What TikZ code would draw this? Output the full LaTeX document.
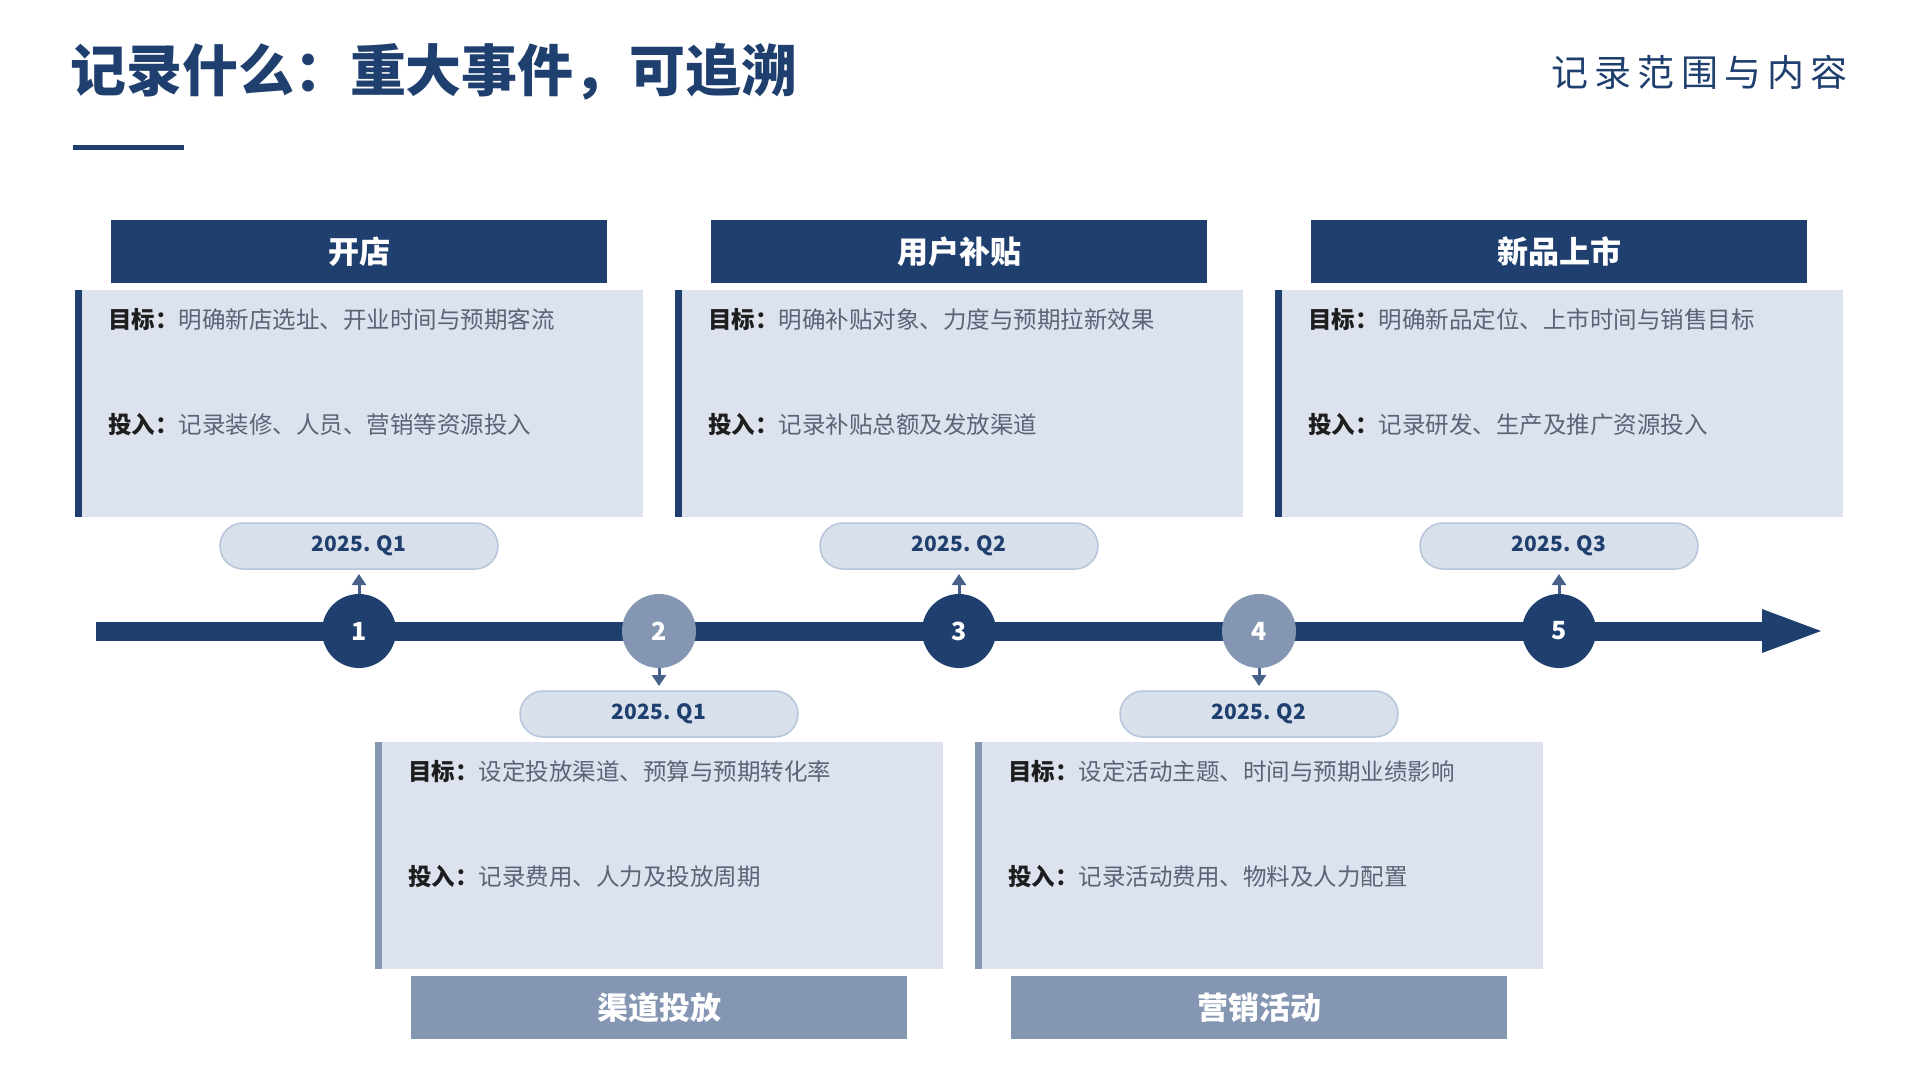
\documentclass[tikz,border=0pt]{standalone}
\usepackage{fontspec}
\setmainfont{Noto Sans CJK SC}
\newfontfamily\subtitlefont{Noto Sans CJK SC}[LetterSpace=17]
\usepackage{tikz}
\usetikzlibrary{positioning,arrows.meta}
\definecolor{navycolor}{RGB}{31,63,110}
\definecolor{slatecolor}{RGB}{132,150,178}
\definecolor{cardcolor}{RGB}{221,227,238}
\definecolor{pillcolor}{RGB}{216,224,235}
\definecolor{pillborder}{RGB}{182,197,219}
\definecolor{labelcolor}{RGB}{30,30,30}
\definecolor{bodycolor}{RGB}{90,100,118}
\definecolor{tickcolor}{RGB}{70,96,138}
\newcommand\cardtext[2]{{\bfseries\color{labelcolor}#1：}#2}

\begin{document}
\begin{tikzpicture}[x=1pt,y=-1pt,outer sep=0pt,inner sep=0pt,
stepnum/.style={
  circle,
  minimum size=74pt,
  text=white,
  font={\fontsize{25}{25}\selectfont\bfseries}},
datepill/.style={
  draw=pillborder,
  line width=1.5pt,
  fill=pillcolor,
  rounded corners=23pt,
  minimum width=278pt,
  minimum height=46pt,
  text=navycolor,
  font={\fontsize{21}{21}\selectfont\bfseries}},
infocard/.style={
  fill=cardcolor,
  minimum width=568pt,
  minimum height=227pt},
headbox/.style={
  minimum width=496pt,
  minimum height=63pt,
  text=white,
  font={\fontsize{31}{31}\selectfont\bfseries}},
cardline/.style={
  anchor=west,
  text=bodycolor,
  font={\fontsize{23.5}{23.5}\selectfont}},
tick/.style={
  draw=tickcolor,
  line width=3pt,
  -{Triangle[length=11pt,width=14pt]},
  shorten >=5pt},
]
\useasboundingbox (0,0) rectangle (1920,1080);

% heading
\node[anchor=west,text=navycolor,font={\fontsize{56}{56}\selectfont\bfseries}] (title) at (70,72) {记录什么：重大事件，可追溯};
\fill[navycolor] (73,145) rectangle (184,150);
\node[anchor=east,text=navycolor,font={\subtitlefont\fontsize{37}{37}\selectfont}] (subtitle) at (1848,72) {记录范围与内容};

% timeline
\coordinate (axstart) at (96,631);
\coordinate (axend) at (1762,631);
\draw[navycolor,line width=19pt] (axstart) -- (axend);
\fill[navycolor] ([yshift=22pt]axend) -- ([xshift=59pt]axend) -- ([yshift=-22pt]axend) -- cycle;

\node[stepnum,fill=navycolor] (s1) at (359,631) {1};
\node[stepnum,fill=slatecolor] (s2) at (659,631) {2};
\node[stepnum,fill=navycolor] (s3) at (959,631) {3};
\node[stepnum,fill=slatecolor] (s4) at (1259,631) {4};
\node[stepnum,fill=navycolor] (s5) at (1559,631) {5};

\node[datepill,above=25pt of s1] (q1) {2025. Q1};
\node[datepill,below=23pt of s2] (q2) {2025. Q1};
\node[datepill,above=25pt of s3] (q3) {2025. Q2};
\node[datepill,below=23pt of s4] (q4) {2025. Q2};
\node[datepill,above=25pt of s5] (q5) {2025. Q3};

\draw[tick] (s1) -- (q1);
\draw[tick] (s2) -- (q2);
\draw[tick] (s3) -- (q3);
\draw[tick] (s4) -- (q4);
\draw[tick] (s5) -- (q5);

% upper cards
\node[infocard,above=6pt of q1] (card1) {};
\node[headbox,fill=navycolor,above=7pt of card1] (head1) {开店};
\fill[navycolor] (card1.north west) rectangle ([xshift=7pt]card1.south west);
\node[cardline] (goal1) at ([xshift=33pt,yshift=-30pt]card1.north west) {\cardtext{目标}{明确新店选址、开业时间与预期客流}};
\node[cardline] (cost1) at ([xshift=33pt,yshift=-135pt]card1.north west) {\cardtext{投入}{记录装修、人员、营销等资源投入}};

\node[infocard,above=6pt of q3] (card3) {};
\node[headbox,fill=navycolor,above=7pt of card3] (head3) {用户补贴};
\fill[navycolor] (card3.north west) rectangle ([xshift=7pt]card3.south west);
\node[cardline] (goal3) at ([xshift=33pt,yshift=-30pt]card3.north west) {\cardtext{目标}{明确补贴对象、力度与预期拉新效果}};
\node[cardline] (cost3) at ([xshift=33pt,yshift=-135pt]card3.north west) {\cardtext{投入}{记录补贴总额及发放渠道}};

\node[infocard,above=6pt of q5] (card5) {};
\node[headbox,fill=navycolor,above=7pt of card5] (head5) {新品上市};
\fill[navycolor] (card5.north west) rectangle ([xshift=7pt]card5.south west);
\node[cardline] (goal5) at ([xshift=33pt,yshift=-30pt]card5.north west) {\cardtext{目标}{明确新品定位、上市时间与销售目标}};
\node[cardline] (cost5) at ([xshift=33pt,yshift=-135pt]card5.north west) {\cardtext{投入}{记录研发、生产及推广资源投入}};

% lower cards
\node[infocard,below=5pt of q2] (card2) {};
\node[headbox,fill=slatecolor,below=7pt of card2] (head2) {渠道投放};
\fill[slatecolor] (card2.north west) rectangle ([xshift=7pt]card2.south west);
\node[cardline] (goal2) at ([xshift=33pt,yshift=-30pt]card2.north west) {\cardtext{目标}{设定投放渠道、预算与预期转化率}};
\node[cardline] (cost2) at ([xshift=33pt,yshift=-135pt]card2.north west) {\cardtext{投入}{记录费用、人力及投放周期}};

\node[infocard,below=5pt of q4] (card4) {};
\node[headbox,fill=slatecolor,below=7pt of card4] (head4) {营销活动};
\fill[slatecolor] (card4.north west) rectangle ([xshift=7pt]card4.south west);
\node[cardline] (goal4) at ([xshift=33pt,yshift=-30pt]card4.north west) {\cardtext{目标}{设定活动主题、时间与预期业绩影响}};
\node[cardline] (cost4) at ([xshift=33pt,yshift=-135pt]card4.north west) {\cardtext{投入}{记录活动费用、物料及人力配置}};
\end{tikzpicture}
\end{document}
